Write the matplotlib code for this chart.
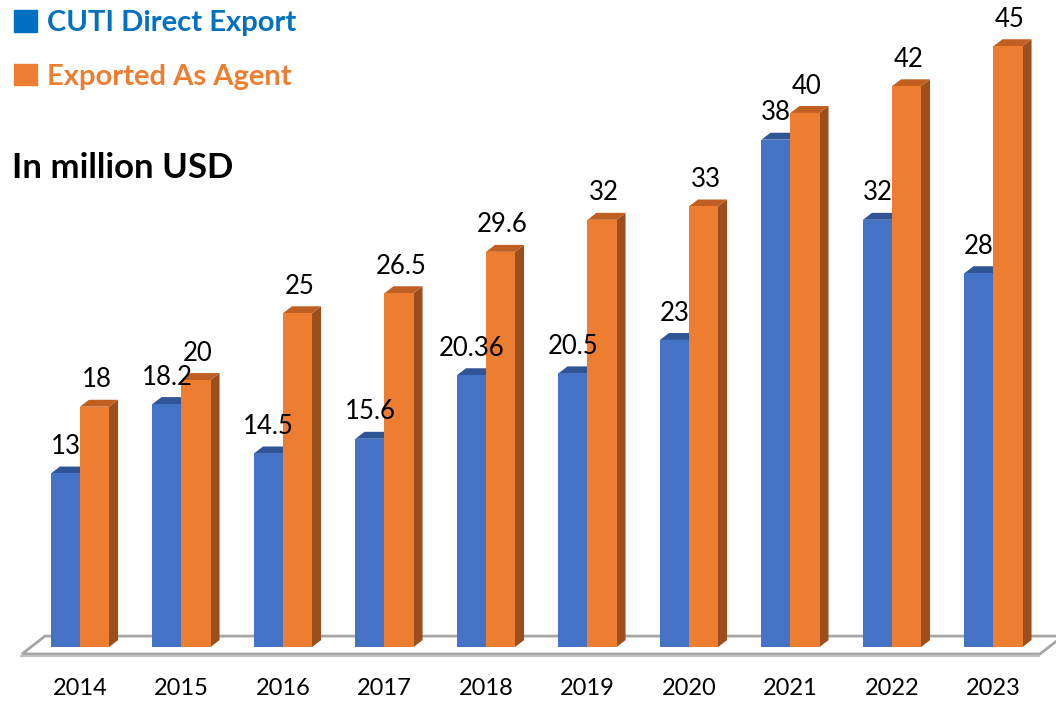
import numpy as np
import matplotlib.pyplot as plt
from matplotlib.patches import Polygon, Patch

plt.rcParams['font.family'] = ['Lato', 'DejaVu Sans']

# data
years = ['2014', '2015', '2016', '2017', '2018', '2019', '2020', '2021', '2022', '2023']
direct_export = [13, 18.2, 14.5, 15.6, 20.36, 20.5, 23, 38, 32, 28]
agent_export = [18, 20, 25, 26.5, 29.6, 32, 33, 40, 42, 45]
direct_labels = ['13', '18.2', '14.5', '15.6', '20.36', '20.5', '23', '38', '32', '28']
agent_labels = ['18', '20', '25', '26.5', '29.6', '32', '33', '40', '42', '45']

blue, blue_top, blue_side = '#4472C4', '#2F5597', '#2F528F'
orange, orange_top, orange_side = '#ED7D31', '#BF5F22', '#9C4E1C'

fig = plt.figure(figsize=(10.56, 7.03), dpi=100)
ax = fig.add_axes([0, 0, 1, 1])
ax.set_xlim(-0.788, 9.616)
ax.set_ylim(-4.19, 48.46)
ax.axis('off')

x = np.arange(len(years))
w = 0.286          # width of one front face
dx, dy = 0.089, 0.52  # depth of the fake 3d effect

# floor slab
fx0, fx1 = -0.571, 9.458
floor = Polygon([(fx0, -0.52), (fx0 + 0.226, 0.82), (fx1 + 0.226, 0.82), (fx1, -0.52)],
                closed=True, facecolor='white', edgecolor='#A6A6A6', lw=2, zorder=1)
ax.add_patch(floor)
ax.plot([fx0 - 0.01, fx1 - 0.01], [-0.68, -0.68], color='#BFBFBF', lw=1.5, zorder=1)


def faces(x0, h, top_c, side_c, z):
    side = Polygon([(x0 + w, 0), (x0 + w + dx, dy), (x0 + w + dx, h + dy), (x0 + w, h)],
                   closed=True, facecolor=side_c, edgecolor='none', zorder=z)
    top = Polygon([(x0, h), (x0 + w, h), (x0 + w + dx, h + dy), (x0 + dx, h + dy)],
                  closed=True, facecolor=top_c, edgecolor='none', zorder=z)
    ax.add_patch(side)
    ax.add_patch(top)


ax.bar(x - w, direct_export, w, align='edge', color=blue, zorder=3)
ax.bar(x, agent_export, w, align='edge', color=orange, zorder=5)
for i in range(len(years)):
    faces(x[i] - w, direct_export[i], blue_top, blue_side, 2)
    faces(x[i], agent_export[i], orange_top, orange_side, 4)

    ax.text(x[i] - w / 2, direct_export[i] + 1.45, direct_labels[i],
            ha='center', va='baseline', fontsize=18.5, color='black', zorder=6)
    ax.text(x[i] + w / 2 + 0.02, agent_export[i] + 1.45, agent_labels[i],
            ha='center', va='baseline', fontsize=18.5, color='black', zorder=6)
    ax.text(x[i], -3.1, years[i], ha='center', va='center', fontsize=17, color='black')

handles = [Patch(color='#0070C0'), Patch(color='#ED7D31')]
ax.legend(handles, ['CUTI Direct Export', 'Exported As Agent'],
          loc='upper left', bbox_to_anchor=(0.0135, 0.986), frameon=False,
          prop={'weight': 'bold', 'size': 21}, labelcolor=['#0070C0', '#ED7D31'],
          handlelength=0.77, handleheight=0.77, handletextpad=0.35, labelspacing=0.95,
          borderaxespad=0, borderpad=0)

fig.text(12 / 1056, 1 - 168 / 703, 'In million USD', ha='left', va='center',
         fontsize=25, fontweight='bold', color='black')

fig.savefig('out.png', dpi=100)
